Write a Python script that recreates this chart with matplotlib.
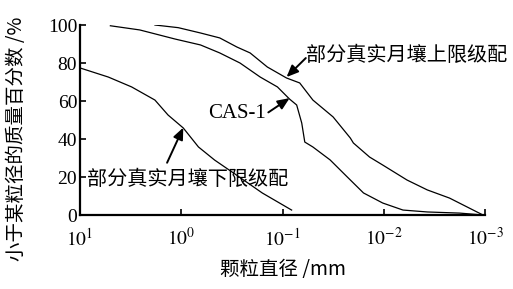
import matplotlib
matplotlib.use("Agg")
import matplotlib.pyplot as plt
import numpy as np

plt.rcParams["font.family"] = ["Liberation Serif", "Noto Sans CJK SC", "DejaVu Sans"]
plt.rcParams["mathtext.fontset"] = "stix"

# particle diameter (log10 mm) and % finer
lower_logd = [1.0, 0.72, 0.49, 0.26, 0.13, -0.02, -0.17, -0.33, -0.53, -0.80, -1.09]
lower_pct = [77.4, 72.6, 67.4, 60.5, 52.6, 45.8, 35.8, 28.9, 21.6, 11.6, 2.6]

cas_logd = [0.70, 0.41, 0.06, -0.19, -0.38, -0.58, -0.78, -0.95, -1.07, -1.14,
            -1.19, -1.22, -1.30, -1.47, -1.64, -1.80, -1.99, -2.19, -2.43, -2.75, -2.98]
cas_pct = [99.6, 97.4, 92.6, 89.5, 85.3, 80.0, 72.6, 67.4, 61.0, 57.9,
           48.4, 38.4, 35.8, 29.0, 20.0, 11.6, 6.3, 2.6, 1.6, 1.0, 0.0]

upper_logd = [0.26, 0.03, -0.19, -0.38, -0.55, -0.68, -0.85, -1.04, -1.17, -1.30,
              -1.50, -1.67, -1.70, -1.86, -1.99, -2.23, -2.43, -2.65, -2.98]
upper_pct = [100.0, 98.6, 95.8, 93.2, 88.4, 85.3, 77.9, 72.1, 69.5, 60.5,
             51.6, 40.5, 37.9, 30.5, 26.3, 18.4, 13.2, 8.9, 0.0]

x_ticks = [10, 1, 0.1, 0.01, 0.001]
x_ticklabels = [r"$10^{1}$", r"$10^{0}$", r"$10^{-1}$", r"$10^{-2}$", r"$10^{-3}$"]
y_ticks = [0, 20, 40, 60, 80, 100]

fig = plt.figure(figsize=(5.13, 2.89), dpi=100)
ax = fig.add_axes([80 / 513, 74 / 289, 405 / 513, 190 / 289])

for logd, pct in [(lower_logd, lower_pct), (cas_logd, cas_pct), (upper_logd, upper_pct)]:
    ax.plot(10 ** np.array(logd), pct, color="black", linewidth=0.9)

ax.set_xscale("log")
ax.set_xlim(10, 0.001)
ax.set_ylim(0, 100)
ax.set_xticks(x_ticks)
ax.set_xticklabels(x_ticklabels)
ax.minorticks_off()
ax.set_yticks(y_ticks)
ax.tick_params(axis="both", direction="in", length=4, width=1.2, labelsize=14)
ax.tick_params(axis="x", pad=9)
ax.tick_params(axis="y", pad=2)

for side in ("top", "right"):
    ax.spines[side].set_visible(False)
for side in ("left", "bottom"):
    ax.spines[side].set_linewidth(1.6)

cjk = ["Noto Sans CJK SC", "DejaVu Sans"]
ax.set_ylabel("小于某粒径的质量百分数 /%", fontsize=14, family=cjk)
ax.yaxis.set_label_coords(-0.13, 0.40)
ax.set_xlabel("颗粒直径 /mm", fontsize=14, family=cjk, labelpad=7)

arrow = dict(arrowstyle="-|>,head_length=0.7,head_width=0.3", color="black",
             lw=1.4, shrinkA=0, shrinkB=0)

# upper limit label + arrow
ax.text(10 ** -1.23, 84, "部分真实月壤上限级配", fontsize=14.5, family=cjk,
        ha="left", va="center")
ax.annotate("", xy=(10 ** -1.04, 72.6), xytext=(10 ** -1.23, 82.6), arrowprops=arrow)

# CAS-1 label + arrow
ax.text(10 ** -0.84, 53.5, "CAS-1", fontsize=15, ha="right", va="center")
ax.annotate("", xy=(10 ** -1.07, 61.5), xytext=(10 ** -0.86, 54), arrowprops=arrow)

# lower limit label + arrow
ax.text(10 ** 0.93, 18.5, "部分真实月壤下限级配", fontsize=14.5, family=cjk,
        ha="left", va="center")
ax.annotate("", xy=(10 ** -0.02, 46), xytext=(10 ** 0.14, 27.5), arrowprops=arrow)

fig.savefig("out.png", dpi=100)
